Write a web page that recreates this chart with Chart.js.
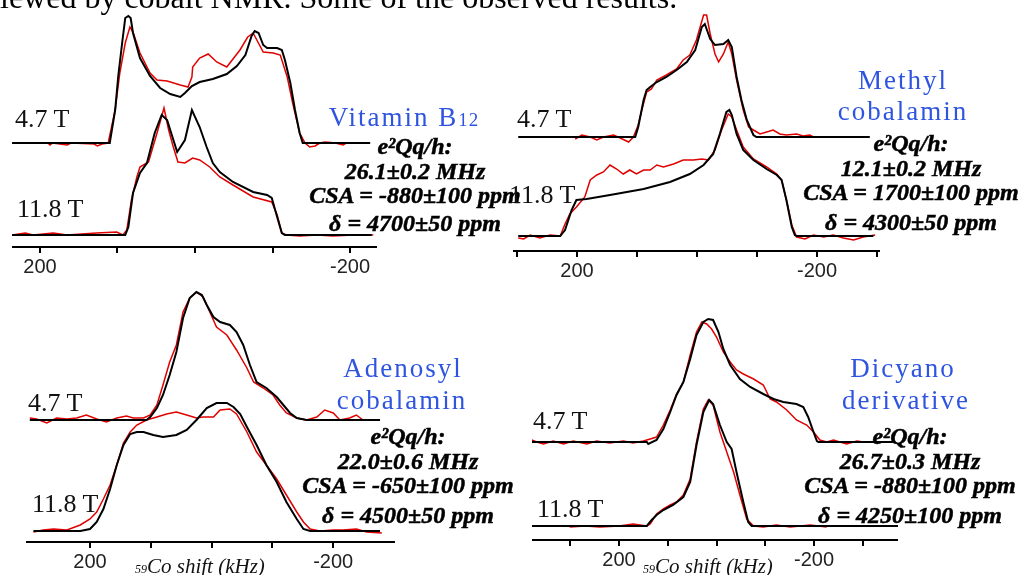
<!DOCTYPE html>
<html>
<head>
<meta charset="utf-8">
<script src="https://cdn.jsdelivr.net/npm/chart.js@4.4.0/dist/chart.umd.min.js"></script>
<style>
  body { margin: 0; width: 1021px; height: 575px; overflow: hidden; background: #fff; position: relative; font-family: 'Liberation Serif', serif; }
  canvas { position: absolute; }
  .t { position: absolute; white-space: nowrap; line-height: 1; color: #111; }
  .intro { font-size: 32px; color: #000; }
  .field { font-size: 26px; }
  .name { font-size: 27px; color: #2f55e0; letter-spacing: 2px; transform: translateX(-50%); }
  .name small { font-size: 19px; letter-spacing: 1px; }
  .fit { font: italic bold 24px 'Liberation Serif', serif; color: #000; -webkit-text-stroke: 0.5px #000; transform: translateX(-50%); }
  .axt { font: italic 21px 'Liberation Serif', serif; color: #111; }
  .axt small { font-size: 12px; }
</style>
</head>
<body>
<canvas id="p1"></canvas>
<canvas id="p2"></canvas>
<canvas id="p3"></canvas>
<canvas id="p4"></canvas>

<div class="t intro" style="left:0px;top:-19px">lewed by cobalt NMR. Some of the observed results.</div>

<div class="t field" style="left:15px;top:106px">4.7 T</div>
<div class="t field" style="left:17px;top:196px">11.8 T</div>
<div class="t name" style="left:404px;top:104px">Vitamin B<small>12</small></div>
<div class="t fit" style="left:415px;top:133px">e²Qq/h:</div>
<div class="t fit" style="left:415px;top:158px">26.1±0.2 MHz</div>
<div class="t fit" style="left:415px;top:182px">CSA = -880±100 ppm</div>
<div class="t fit" style="left:415px;top:210px">δ = 4700±50 ppm</div>

<div class="t field" style="left:517px;top:106px">4.7 T</div>
<div class="t field" style="left:509px;top:182px">11.8 T</div>
<div class="t name" style="left:903px;top:67px">Methyl</div>
<div class="t name" style="left:903px;top:98px">cobalamin</div>
<div class="t fit" style="left:911px;top:130px">e²Qq/h:</div>
<div class="t fit" style="left:911px;top:155px">12.1±0.2 MHz</div>
<div class="t fit" style="left:911px;top:179px">CSA = 1700±100 ppm</div>
<div class="t fit" style="left:911px;top:209px">δ = 4300±50 ppm</div>

<div class="t field" style="left:28px;top:390px">4.7 T</div>
<div class="t field" style="left:32px;top:491px">11.8 T</div>
<div class="t name" style="left:403px;top:355px">Adenosyl</div>
<div class="t name" style="left:402px;top:387px">cobalamin</div>
<div class="t fit" style="left:408px;top:423px">e²Qq/h:</div>
<div class="t fit" style="left:408px;top:448px">22.0±0.6 MHz</div>
<div class="t fit" style="left:408px;top:472px">CSA = -650±100 ppm</div>
<div class="t fit" style="left:408px;top:502px">δ = 4500±50 ppm</div>
<div class="t axt" style="left:135px;top:554px"><small>59</small>Co shift (kHz)</div>

<div class="t field" style="left:533px;top:408px">4.7 T</div>
<div class="t field" style="left:537px;top:496px">11.8 T</div>
<div class="t name" style="left:903px;top:355px">Dicyano</div>
<div class="t name" style="left:906px;top:387px">derivative</div>
<div class="t fit" style="left:910px;top:423px">e²Qq/h:</div>
<div class="t fit" style="left:910px;top:448px">26.7±0.3 MHz</div>
<div class="t fit" style="left:910px;top:472px">CSA = -880±100 ppm</div>
<div class="t fit" style="left:910px;top:502px">δ = 4250±100 ppm</div>
<div class="t axt" style="left:643px;top:554px"><small>59</small>Co shift (kHz)</div>

<script>
// spectra as [shift kHz, intensity] pairs
// sim = black simulation, exp = red experiment

// Vitamin B12
const b12_47_sim = [[236,0],[110,0],[103,33],[99,67],[94,100],[90,125],[86,127],[83,125],[80,110],[71,85],[58,67],[45,55],[32,49],[19,46],[13,50],[4,57],[-6,61],[-23,64],[-41,69],[-54,77],[-65,88],[-73,107],[-77,112],[-82,110],[-88,98],[-93,95],[-106,95],[-112,93],[-116,83],[-123,60],[-129,33],[-135,10],[-139,0],[-226,0]];
const b12_47_exp = [[236,0],[190,0],[187,-2],[184,0],[165,-2],[160,0],[130,-1],[126,-3],[120,-1],[112,0],[103,33],[97,70],[90,100],[84,116],[80,111],[71,90],[58,70],[49,63],[36,62],[19,58],[9,56],[4,66],[3,76],[-6,85],[-17,89],[-28,81],[-41,76],[-58,93],[-68,106],[-75,110],[-88,91],[-101,90],[-110,88],[-119,66],[-126,40],[-135,10],[-142,0],[-148,-4],[-155,-3],[-161,0],[-168,1],[-181,0],[-191,-2],[-195,0]];
const b12_118_sim = [[236,0],[90,0],[86,8],[80,42],[71,62],[62,72],[52,102],[43,120],[36,115],[23,83],[13,95],[4,125],[-6,108],[-15,88],[-23,72],[-32,63],[-49,53],[-75,43],[-93,40],[-99,37],[-106,18],[-112,2],[-116,0],[-228,0]];
const b12_118_exp = [[236,0],[219,2],[209,0],[183,2],[165,0],[127,2],[101,3],[93,0],[88,5],[82,35],[75,58],[71,68],[60,73],[49,102],[40,127],[34,105],[28,88],[22,73],[13,72],[3,77],[-6,75],[-19,68],[-32,58],[-49,50],[-75,38],[-99,33],[-106,20],[-112,2],[-118,0],[-135,-1],[-157,0],[-178,-1],[-204,0],[-230,0]];

// Methyl cobalamin
const me_47_sim = [[298,0],[103,0],[98,10],[89,37],[84,47],[78,50],[67,55],[51,60],[34,67],[17,75],[3,87],[-8,110],[-13,113],[-22,98],[-30,92],[-44,93],[-52,97],[-58,90],[-66,60],[-74,37],[-83,17],[-94,2],[-99,0],[-288,0]];
const me_47_exp = [[203,-2],[192,2],[178,0],[167,-3],[156,0],[139,2],[128,-1],[114,-5],[106,0],[98,12],[92,27],[84,45],[76,48],[67,57],[51,62],[34,68],[23,77],[12,82],[1,97],[-11,122],[-16,122],[-22,103],[-30,83],[-36,75],[-44,83],[-52,95],[-58,83],[-66,57],[-77,27],[-86,10],[-94,7],[-105,3],[-116,5],[-127,7],[-138,3],[-149,2],[-166,3],[-177,1],[-188,2],[-194,0]];
const me_118_sim = [[298,0],[228,0],[220,6],[209,26],[201,36],[184,37],[145,41],[89,47],[45,54],[12,62],[-11,71],[-27,82],[-38,102],[-49,124],[-54,126],[-58,121],[-66,102],[-77,86],[-94,76],[-116,67],[-133,61],[-141,56],[-149,36],[-158,9],[-163,1],[-166,0],[-294,0]];
const me_118_exp = [[298,-2],[289,-3],[278,1],[262,-2],[245,1],[228,0],[220,12],[212,22],[201,29],[187,39],[178,56],[167,61],[156,64],[145,71],[134,67],[123,62],[112,66],[101,62],[89,66],[78,66],[67,71],[56,69],[39,72],[23,76],[6,76],[-8,77],[-19,76],[-30,86],[-41,106],[-52,122],[-58,119],[-66,106],[-77,89],[-94,77],[-116,69],[-133,62],[-141,56],[-149,36],[-158,11],[-166,-1],[-180,-3],[-194,1],[-211,-1],[-227,1],[-244,-2],[-261,-4],[-277,-1],[-297,1]];

// Adenosyl cobalamin
const ad_47_sim = [[299,0],[107,0],[101,3],[90,12],[80,25],[69,45],[58,68],[47,102],[36,122],[25,128],[16,125],[8,115],[-3,103],[-14,98],[-30,95],[-41,88],[-52,75],[-63,55],[-74,38],[-90,32],[-107,23],[-118,15],[-129,7],[-140,2],[-156,0],[-277,0]];
const ad_47_exp = [[299,2],[288,1],[271,-3],[255,2],[238,1],[222,2],[206,5],[189,1],[173,-2],[156,2],[140,4],[129,2],[112,2],[101,5],[90,15],[80,35],[69,58],[58,75],[47,108],[36,122],[25,128],[14,123],[3,108],[-8,93],[-25,85],[-41,70],[-58,52],[-69,38],[-85,32],[-101,25],[-112,15],[-123,7],[-140,2],[-156,0],[-173,3],[-186,10],[-200,7],[-211,0],[-227,2],[-238,5],[-249,0],[-277,0]];
const ad_118_sim = [[293,0],[216,0],[200,2],[189,9],[178,22],[167,42],[156,66],[145,86],[134,97],[123,99],[112,99],[96,96],[80,94],[58,96],[41,101],[25,111],[8,123],[-8,128],[-25,128],[-36,124],[-47,117],[-58,104],[-74,86],[-90,66],[-107,49],[-123,29],[-140,12],[-151,2],[-162,0],[-277,0]];
const ad_118_exp = [[293,-1],[277,1],[260,2],[238,1],[216,6],[200,12],[189,19],[178,32],[167,46],[156,66],[145,88],[134,99],[123,106],[107,111],[90,114],[74,117],[58,119],[41,116],[25,113],[14,114],[-3,114],[-14,121],[-30,122],[-41,117],[-58,99],[-74,79],[-90,66],[-107,52],[-123,36],[-140,19],[-151,9],[-162,2],[-178,0],[-200,1],[-216,1],[-238,2],[-255,-1],[-280,-2]];

// Dicyano derivative
const dc_47_sim = [[379,0],[143,0],[140,-2],[123,2],[109,13],[95,30],[82,47],[68,60],[54,83],[41,107],[27,120],[17,123],[7,122],[-4,110],[-14,93],[-28,77],[-48,63],[-69,55],[-96,48],[-117,43],[-137,40],[-164,38],[-178,35],[-188,25],[-199,10],[-206,1],[-209,0],[-363,0]];
const dc_47_exp = [[379,2],[369,0],[355,-2],[335,1],[314,-2],[294,1],[266,-2],[246,1],[219,-1],[191,1],[171,-1],[150,1],[136,3],[123,5],[109,17],[95,32],[82,48],[68,60],[54,87],[41,110],[30,120],[20,118],[10,113],[0,105],[-14,90],[-28,80],[-41,72],[-55,68],[-76,63],[-96,57],[-110,43],[-123,40],[-144,32],[-164,22],[-185,17],[-199,10],[-212,2],[-226,0],[-240,2],[-253,0],[-267,-2],[-288,1],[-301,0]];
const dc_118_sim = [[379,0],[143,0],[133,6],[123,11],[109,16],[89,21],[68,29],[54,44],[41,81],[27,114],[15,126],[7,122],[-7,101],[-21,84],[-31,77],[-41,54],[-55,24],[-65,4],[-72,0],[-373,0]];
const dc_118_exp = [[301,-1],[270,0],[239,-1],[200,0],[171,2],[143,0],[136,2],[123,12],[109,17],[95,21],[82,24],[68,31],[54,47],[41,84],[27,117],[17,126],[7,121],[-7,94],[-21,74],[-35,54],[-48,31],[-62,7],[-76,0],[-96,-1],[-123,1],[-151,-1],[-192,1],[-226,-1]];

// tick marks on the shift axis, only +-200 carry a label
const ticksWide = [300, 200, 100, 0, -100, -200, -300];
const ticksNarrow = [200, 100, 0, -100, -200];
const labelTicks = [200, -200];

function trace(points, axis, color, width, order) {
    return {
        data: points.map(p => ({ x: p[0], y: p[1] })),
        yAxisID: axis,
        borderColor: color,
        borderWidth: width,
        pointRadius: 0,
        tension: 0,
        fill: false,
        order: order
    };
}

function panel(id, box, xr, tickList, topRange, botRange, s47, e47, s118, e118) {
    const cv = document.getElementById(id);
    cv.width = box.w;
    cv.height = box.h;
    cv.style.left = box.x + 'px';
    cv.style.top = box.y + 'px';

    new Chart(cv, {
        type: 'line',
        data: {
            datasets: [
                trace(s47, 'yA', '#000', 2, 0),
                trace(s118, 'yB', '#000', 2, 1),
                trace(e47, 'yA', '#e00000', 1.5, 2),
                trace(e118, 'yB', '#e00000', 1.5, 3)
            ]
        },
        options: {
            responsive: false,
            animation: false,
            events: [],
            layout: { padding: 0 },
            plugins: { legend: { display: false }, tooltip: { enabled: false } },
            scales: {
                x: {
                    type: 'linear',
                    reverse: true,
                    min: xr[0],
                    max: xr[1],
                    afterFit: s => { s.height = 40; },
                    // fixed tick set (auto ticks doubled the step on one panel)
                    afterBuildTicks: s => {
                        s.ticks = tickList.filter(v => v >= xr[0] && v <= xr[1]).map(v => ({ value: v }));
                    },
                    ticks: {
                        autoSkip: false,
                        maxRotation: 0,
                        padding: 2,
                        color: '#222',
                        font: { family: "'Liberation Sans', sans-serif", size: 20 },
                        callback: v => labelTicks.includes(v) ? String(v) : ''
                    },
                    grid: { drawOnChartArea: false, drawTicks: true, tickLength: 6, lineWidth: 2, color: '#000' },
                    border: { display: true, color: '#000', width: 2 }
                },
                yA: { type: 'linear', display: false, min: topRange[0], max: topRange[1] },
                yB: { type: 'linear', display: false, min: botRange[0], max: botRange[1] }
            }
        }
    });
}

panel('p1', { x: 12, y: 5, w: 365, h: 282 }, [-234.8, 236.1], ticksWide, [-104, 138], [-12, 230], b12_47_sim, b12_47_exp, b12_118_sim, b12_118_exp);
panel('p2', { x: 513, y: 5, w: 367, h: 286 }, [-305, 306.7], ticksWide, [-114, 132], [-15, 231], me_47_sim, me_47_exp, me_118_sim, me_118_exp);
panel('p3', { x: 26, y: 285, w: 369, h: 297 }, [-301.6, 305.3], ticksNarrow, [-122, 135], [-11, 246], ad_47_sim, ad_47_exp, ad_118_sim, ad_118_exp);
panel('p4', { x: 532, y: 285, w: 366, h: 295 }, [-372.3, 378.5], ticksWide, [-98, 157], [-14, 241], dc_47_sim, dc_47_exp, dc_118_sim, dc_118_exp);
</script>
</body>
</html>
